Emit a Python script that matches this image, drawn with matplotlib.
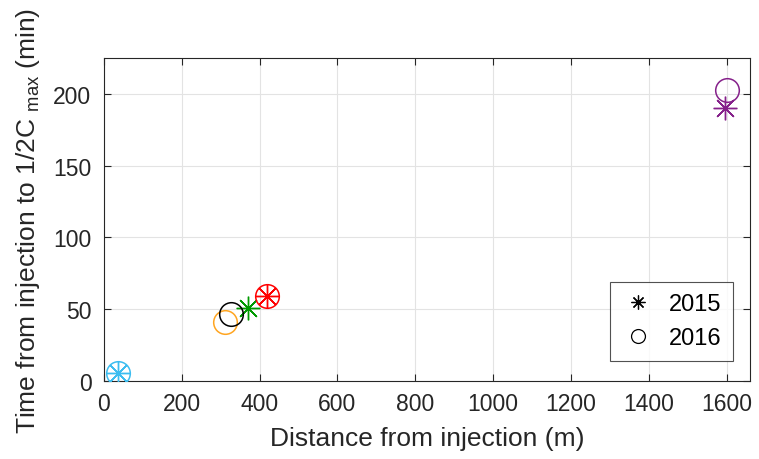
import matplotlib
matplotlib.use("Agg")
import matplotlib.pyplot as plt
from matplotlib.lines import Line2D

plt.rcParams["font.family"] = ["Liberation Sans", "DejaVu Sans"]
plt.rcParams["mathtext.fontset"] = "custom"
plt.rcParams["mathtext.rm"] = "Liberation Sans"

# site colours and measured values
colors = ["#3CBDF0", "#FFA520", "#000000", "#009900", "#FF0000", "#85208A"]
dist_2015 = [36, 370, 419, 1595]
time_2015 = [5.5, 51, 59, 190]
col_2015 = [colors[0], colors[3], colors[4], colors[5]]
dist_2016 = [36, 311, 327, 419, 1600]
time_2016 = [5.5, 41, 47, 59, 203]
col_2016 = [colors[0], colors[1], colors[2], colors[4], colors[5]]

fig = plt.figure(figsize=(7.59, 4.6), dpi=100)
ax = fig.add_axes([104 / 759, (460 - 382) / 460, (750 - 104) / 759, (382 - 59) / 460])

# 2015: asterisk markers
for x, y, c in zip(dist_2015, time_2015, col_2015):
    ax.plot(x, y, marker=(8, 2, 0), linestyle="none", color=c, markersize=17,
            markeredgewidth=1.0, zorder=3)
# 2016: open circles
for x, y, c in zip(dist_2016, time_2016, col_2016):
    ax.plot(x, y, marker="o", linestyle="none", markerfacecolor="none",
            markeredgecolor=c, markersize=17, markeredgewidth=1.1, zorder=3)

ax.set_xlim(0, 1660)
ax.set_ylim(0, 225)
ax.set_xticks(range(0, 1601, 200))
ax.set_yticks(range(0, 201, 50))
ax.grid(True, color="#E3E3E3", linewidth=0.8)
ax.set_axisbelow(True)
ax.tick_params(direction="in", top=True, right=True, labelsize=16.5,
               length=5, color="#262626", labelcolor="#262626")
ax.tick_params(axis="y", pad=9)
ax.tick_params(axis="x", pad=8)
for s in ax.spines.values():
    s.set_color("#262626")
    s.set_linewidth(0.8)

ax.set_xlabel("Distance from injection (m)", fontsize=19, color="#262626", labelpad=8)
ax.set_ylabel(r"Time from injection to 1/2C $_{\mathrm{max}}$ (min)", fontsize=19,
              color="#262626", labelpad=8)

handles = [
    Line2D([], [], marker=(8, 2, 0), linestyle="none", color="black",
           markersize=10, markeredgewidth=0.9),
    Line2D([], [], marker="o", linestyle="none", markerfacecolor="none",
           markeredgecolor="black", markersize=10, markeredgewidth=0.9),
]
leg = ax.legend(handles, ["2015", "2016"], loc="lower right", fontsize=17,
                frameon=True, fancybox=False, edgecolor="#262626",
                bbox_to_anchor=(0.974, 0.062), borderaxespad=0,
                handletextpad=0.6, borderpad=0.5, labelspacing=0.5,
                handlelength=1.4)
leg.get_frame().set_linewidth(0.8)

fig.savefig("out.png", dpi=100, facecolor="white")
